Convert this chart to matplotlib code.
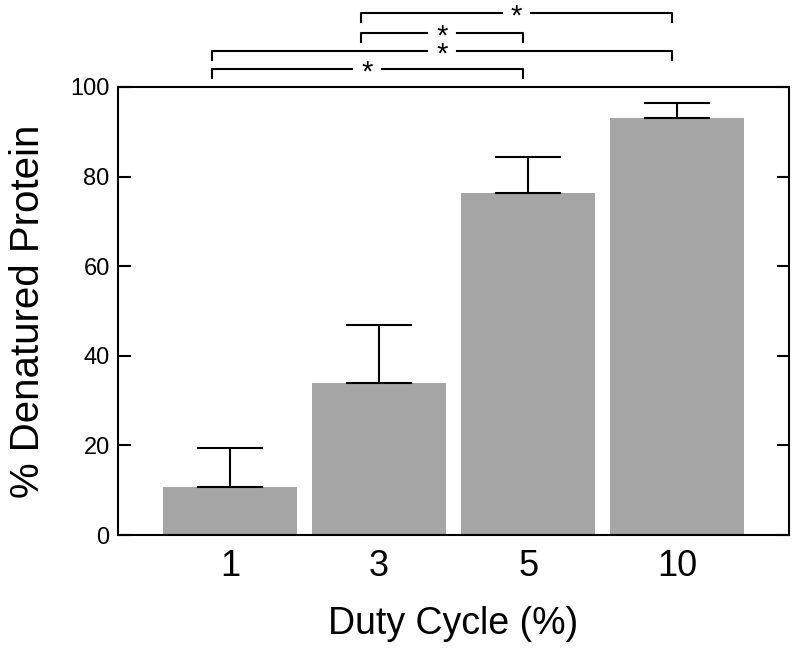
import numpy as np
import matplotlib
matplotlib.use('Agg')
import matplotlib.pyplot as plt

plt.rcParams['font.family'] = ['Liberation Sans', 'DejaVu Sans']

# values
duty_cycle = ['1', '3', '5', '10']
denatured = [10.8, 33.9, 76.3, 93.1]
err_up = [8.7, 13.0, 8.0, 3.3]

# significance comparisons (bar i, bar j, bracket height)
pairs = [(0, 2), (0, 3), (1, 2), (1, 3)]
levels = [104, 108, 112, 116.5]

fig = plt.figure(figsize=(8, 6.53), dpi=100)
ax = fig.add_axes([0.1475, 0.1807, 0.8388, 0.6861])

x = np.arange(len(duty_cycle))
ax.bar(x, denatured, width=0.9, color='#a5a5a5')
ax.errorbar(x, denatured, yerr=[np.zeros(len(err_up)), err_up], fmt='none',
            ecolor='black', elinewidth=1.5, capsize=24, capthick=1.5)

ax.set_xlim(-0.75, 3.75)
ax.set_ylim(0, 100)
ax.set_xticks(x)
ax.set_xticklabels(duty_cycle)
ax.set_yticks([0, 20, 40, 60, 80, 100])
ax.tick_params(axis='x', length=0, labelsize=26, pad=10)
ax.tick_params(axis='y', direction='in', length=9, width=1.5, labelsize=17,
               pad=6, right=True)
for s in ax.spines.values():
    s.set_linewidth(1.5)

ax.set_xlabel('Duty Cycle (%)', fontsize=27, labelpad=16)
ax.set_ylabel('% Denatured Protein', fontsize=29, labelpad=17)

# significance brackets
gap = 0.1
tick = 2.0
fs = 21
for (i, j), lev in zip(pairs, levels):
    x0 = i - 0.12
    x1 = j - 0.035
    xm = (x0 + x1) / 2
    kw = dict(color='black', lw=1.5, clip_on=False)
    ax.plot([x0, x0, xm - gap], [lev - tick, lev, lev], **kw)
    ax.plot([xm + gap, x1, x1], [lev, lev, lev - tick], **kw)
    ax.annotate('*', xy=(xm, lev), xytext=(0, -0.38 * fs), textcoords='offset points',
                ha='center', va='baseline', fontsize=fs, annotation_clip=False)

fig.savefig('out.png', dpi=100)
